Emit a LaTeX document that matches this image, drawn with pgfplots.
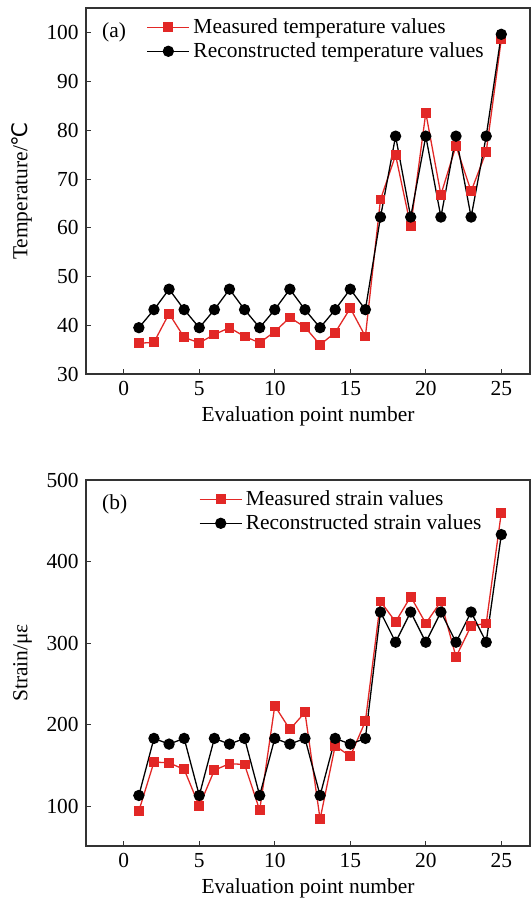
\documentclass[border=0pt]{standalone}
\usepackage{pgfplots}
\pgfplotsset{compat=1.18}
\usepackage{fontspec}
\setmainfont{Liberation Serif}
\newfontfamily\dvs{DejaVu Sans}
\definecolor{myred}{RGB}{226,40,38}
\begin{document}
\fontsize{21.5}{23}\selectfont
\begin{tikzpicture}
\useasboundingbox (0bp,0bp) rectangle (531bp,911bp);
\pgfplotsset{
  myax/.style={
    scale only axis, width=444bp, height=366bp,
    xmin=-2.5, xmax=26.9,
    xtick={0,5,10,15,20,25},
    tick align=inside, xtick pos=bottom, ytick pos=left,
    major tick length=5bp,
    /pgf/number format/assume math mode=true,
    tick label style={font=\fontsize{21.5}{23}\selectfont},
    label style={font=\fontsize{21.5}{23}\selectfont},
    xlabel={Evaluation point number},
    xlabel style={yshift=4bp},
    axis line style={line width=1.1pt, black!80},
    tick style={line width=0.8pt, black!80},
    legend style={draw=none, fill=none, font=\fontsize{21.5}{23}\selectfont, row sep=-1bp, inner sep=1bp, nodes={inner sep=3.5bp}},
    legend cell align=left,
    legend image code/.code={
      \draw[line width=1.3pt, mark repeat=2,mark phase=2] plot coordinates {(0bp,0bp) (21bp,0bp) (42bp,0bp)};
    },
  },
  meas/.style={color=myred, line width=1.3pt, mark=square*, mark size=4.3bp, mark options={solid}},
  reco/.style={color=black, line width=1.3pt, mark=*, mark size=5bp, mark options={solid}},
}
\begin{axis}[myax, at={(86bp,537bp)}, anchor=south west,
  ymin=30, ymax=105.1, ytick={30,40,50,60,70,80,90,100},
  ylabel={Temperature/{\dvs ℃}},
  legend style={at={(0.134,0.985)}, anchor=north west}]
\addplot[meas] coordinates {(1,36.3)(2,36.5)(3,42.4)(4,37.5)(5,36.4)(6,38.1)(7,39.5)(8,37.7)(9,36.4)(10,38.7)(11,41.6)(12,39.6)(13,36.0)(14,38.5)(15,43.5)(16,37.7)(17,65.8)(18,74.9)(19,60.3)(20,83.6)(21,66.8)(22,76.8)(23,67.5)(24,75.6)(25,98.7)};
\addlegendentry{Measured temperature values}
\addplot[reco] coordinates {(1,39.5)(2,43.2)(3,47.4)(4,43.2)(5,39.5)(6,43.2)(7,47.4)(8,43.2)(9,39.5)(10,43.2)(11,47.4)(12,43.2)(13,39.5)(14,43.2)(15,47.4)(16,43.2)(17,62.2)(18,78.8)(19,62.2)(20,78.8)(21,62.2)(22,78.8)(23,62.2)(24,78.8)(25,99.7)};
\addlegendentry{Reconstructed temperature values}
\node[anchor=north west, font=\fontsize{21.5}{23}\selectfont] at (rel axis cs:0.02,0.98) {(a)};
\end{axis}
\begin{axis}[myax, at={(86bp,65bp)}, anchor=south west,
  ymin=51, ymax=500, ytick={100,200,300,400,500},
  ylabel={Strain/με},
  legend style={at={(0.252,0.985)}, anchor=north west}]
\addplot[meas] coordinates {(1,94)(2,154)(3,153)(4,145)(5,100)(6,144)(7,152)(8,151)(9,95)(10,223)(11,194)(12,215)(13,84)(14,174)(15,161)(16,204)(17,351)(18,326)(19,357)(20,324)(21,351)(22,283)(23,321)(24,324)(25,460)};
\addlegendentry{Measured strain values}
\addplot[reco] coordinates {(1,113)(2,183)(3,176)(4,183)(5,113)(6,183)(7,176)(8,183)(9,113)(10,183)(11,176)(12,183)(13,113)(14,183)(15,176)(16,183)(17,338)(18,301)(19,338)(20,301)(21,338)(22,301)(23,338)(24,301)(25,433)};
\addlegendentry{Reconstructed strain values}
\node[anchor=north west, font=\fontsize{21.5}{23}\selectfont] at (rel axis cs:0.02,0.98) {(b)};
\end{axis}
\end{tikzpicture}
\end{document}
